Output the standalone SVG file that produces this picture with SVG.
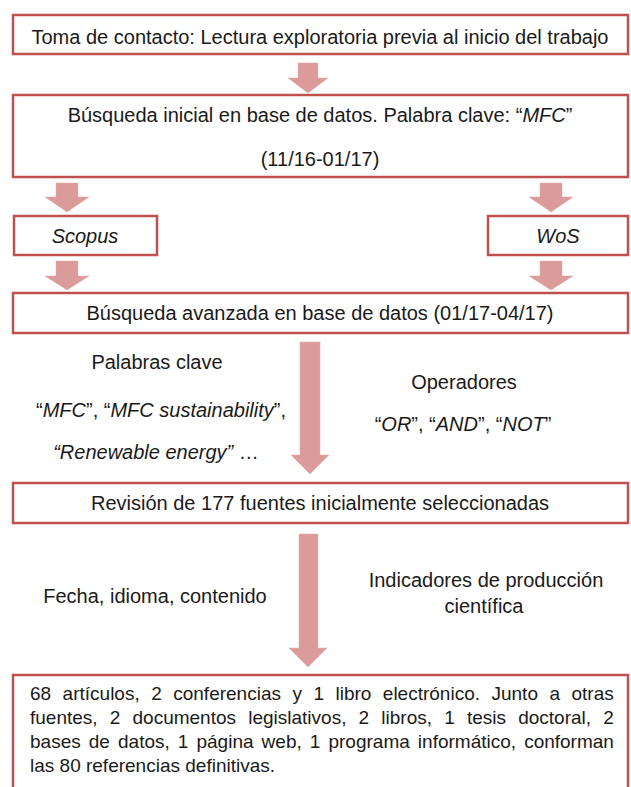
<svg xmlns="http://www.w3.org/2000/svg" width="631" height="787" viewBox="0 0 631 787">
<style>
.box{fill:#fff;stroke:#C0504D;stroke-width:2.5}
.arr{fill:#DB9B9A;stroke:#E0AAAA;stroke-width:0.5}
text{font-family:"Liberation Sans",Arial,sans-serif;font-size:20px;fill:#1a1a1a}
.c{text-anchor:middle}
.i{font-style:italic}
.j{font-size:19px}
</style>
<rect width="631" height="787" fill="#fff"/>
<g id="connectors">
<polygon class="arr" points="298,63 318,63 318,78 328,78 308,93 288,78 298,78"/>
<polygon class="arr" points="56,183 78,183 78,197 89,197 67,212 45,197 56,197"/>
<polygon class="arr" points="540,183 562,183 562,197 573,197 551,212 529,197 540,197"/>
<polygon class="arr" points="56,261 78,261 78,276 89,276 67,290 45,276 56,276"/>
<polygon class="arr" points="540,261 562,261 562,276 573,276 551,290 529,276 540,276"/>
<polygon class="arr" points="300,342 320,342 320,455 329,455 310,474 291,455 300,455"/>
<polygon class="arr" points="299,534 318,534 318,648 327,648 308,667 289,648 299,648"/>
</g>
<g id="n1">
<rect class="box" x="13" y="15" width="615" height="39"/>
<text class="c" x="320" y="44">Toma de contacto: Lectura exploratoria previa al inicio del trabajo</text>
</g>
<g id="n2">
<rect class="box" x="13" y="95" width="615" height="82"/>
<text class="c" x="320" y="122">Búsqueda inicial en base de datos. Palabra clave: “<tspan class="i">MFC</tspan>”</text>
<text class="c" x="320" y="166">(11/16-01/17)</text>
</g>
<g id="n3">
<rect class="box" x="14" y="216" width="143" height="39"/>
<text class="c i" x="85" y="243">Scopus</text>
</g>
<g id="n4">
<rect class="box" x="488" y="216" width="140" height="39"/>
<text class="c i" x="558" y="243">WoS</text>
</g>
<g id="n5">
<rect class="box" x="13" y="293" width="615" height="40"/>
<text class="c" x="320" y="320">Búsqueda avanzada en base de datos (01/17-04/17)</text>
</g>
<g id="lbl1">
<text class="c" x="157" y="369">Palabras clave</text>
<text class="c" x="161" y="417">“<tspan class="i">MFC</tspan>”, “<tspan class="i">MFC sustainability</tspan>”,</text>
<text class="c" x="156" y="459"><tspan class="i">“Renewable energy”</tspan> …</text>
</g>
<g id="lbl2">
<text class="c" x="464" y="389">Operadores</text>
<text class="c" x="463" y="431">“<tspan class="i">OR</tspan>”, “<tspan class="i">AND</tspan>”, “<tspan class="i">NOT</tspan>”</text>
</g>
<g id="n6">
<rect class="box" x="13" y="483" width="615" height="40"/>
<text class="c" x="320" y="510">Revisión de 177 fuentes inicialmente seleccionadas</text>
</g>
<g id="lbl3">
<text class="c" x="155" y="603">Fecha, idioma, contenido</text>
</g>
<g id="lbl4">
<text class="c" x="486" y="587">Indicadores de producción</text>
<text class="c" x="484" y="613">científica</text>
</g>
<g id="n7">
<rect class="box" x="13" y="675" width="615" height="130"/>
<text class="j" x="30" y="700" word-spacing="6.2">68 artículos, 2 conferencias y 1 libro electrónico. Junto a otras</text>
<text class="j" x="30" y="724" word-spacing="6.9">fuentes, 2 documentos legislativos, 2 libros, 1 tesis doctoral, 2</text>
<text class="j" x="30" y="748" word-spacing="2.8">bases de datos, 1 página web, 1 programa informático, conforman</text>
<text class="j" x="30" y="772">las 80 referencias definitivas.</text>
</g>
</svg>
